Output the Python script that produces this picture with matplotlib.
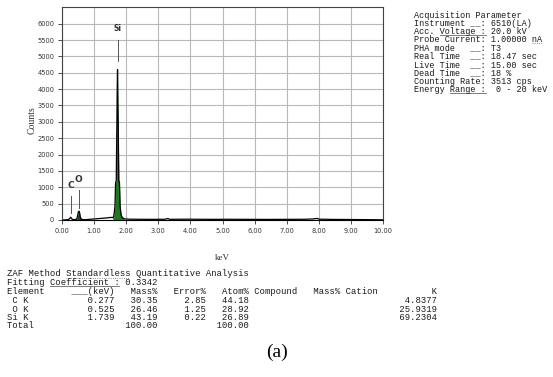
import matplotlib
matplotlib.use("Agg")
import matplotlib.pyplot as plt
from matplotlib.lines import Line2D

W, H = 553, 377

# EDS spectrum (keV, counts)
energy_kev = [0.00, 0.10, 0.18, 0.22, 0.25, 0.27, 0.29, 0.32, 0.38, 0.44, 0.47,
              0.49, 0.51, 0.53, 0.55, 0.57, 0.60, 0.66, 0.75, 0.85, 0.95, 1.05,
              1.15, 1.25, 1.35, 1.45, 1.52, 1.57, 1.60, 1.62, 1.65, 1.67, 1.69,
              1.71, 1.72, 1.73, 1.74, 1.75, 1.77, 1.79, 1.81, 1.84, 1.88, 1.95,
              2.10, 2.40, 2.80, 3.20, 3.30, 3.36, 3.50, 3.90, 4.30, 4.70, 5.20,
              5.80, 6.40, 7.00, 7.50, 7.80, 7.95, 8.02, 8.10, 8.40, 9.00, 9.60,
              10.00]
counts = [0, 5, 10, 25, 60, 85, 55, 20, 12, 20, 60,
          160, 250, 270, 210, 90, 25, 12, 12, 20, 28, 35,
          45, 52, 60, 70, 80, 72, 90, 160, 420, 1150, 1200,
          3000, 4000, 4600, 3600, 3000, 1200, 1150, 420, 160, 70, 35,
          25, 22, 20, 22, 45, 20, 22, 25, 22, 20, 22,
          20, 18, 20, 22, 30, 48, 22, 25, 18, 15, 10,
          5]

si_range = (1.59, 1.88)
o_range = (0.46, 0.59)

peak_names = ["C", "O", "Si"]
peak_kev = [0.277, 0.525, 1.739]
marker_low = [200, 360, 4850]
marker_high = [720, 920, 5500]
label_counts = [1060, 1250, 5850]

x_ticks = [0, 1, 2, 3, 4, 5, 6, 7, 8, 9, 10]
y_ticks = list(range(0, 6001, 500))

acq_lines = [
    "Acquisition Parameter",
    "Instrument __: 6510(LA)",
    "Acc. Voltage : 20.0 kV",
    "Probe Current: 1.00000 nA",
    "PHA mode   __: T3",
    "Real Time  __: 18.47 sec",
    "Live Time  __: 15.00 sec",
    "Dead Time  __: 18 %",
    "Counting Rate: 3513 cps",
    "Energy Range :  0 - 20 keV",
]

elements = [" C K", " O K", "Si K"]
line_kev = [0.277, 0.525, 1.739]
mass_pct = [30.35, 26.46, 43.19]
error_pct = [2.85, 1.25, 0.22]
atom_pct = [44.18, 28.92, 26.89]
k_values = [4.8377, 25.9319, 69.2304]
total_mass = 100.00
total_atom = 100.00
fit_coef = 0.3342

mono = "Liberation Mono"
serif = "Liberation Serif"

fig = plt.figure(figsize=(W / 100, H / 100), dpi=100)
ax = fig.add_axes([62 / W, 1 - 220 / H, (383 - 62) / W, (220 - 7.3) / H])

ax.fill_between(energy_kev, counts, where=[si_range[0] <= e <= si_range[1] for e in energy_kev],
                color="#1f7a1f", lw=0, interpolate=True)
ax.fill_between(energy_kev, counts, where=[o_range[0] <= e <= o_range[1] for e in energy_kev],
                color="#1d4d1d", lw=0, interpolate=True)
ax.plot(energy_kev, counts, color="black", lw=0.9)

for name, e, lo, hi, ly in zip(peak_names, peak_kev, marker_low, marker_high, label_counts):
    ax.plot([e, e], [lo, hi], color="#555555", lw=0.7)
    ax.text(e, ly, name, ha="center", va="center", color="#333333",
            fontsize=5.5 if name == "Si" else 6.5, fontweight="bold")

ax.set_xlim(0, 10)
ax.set_ylim(0, 6500)
ax.set_xticks(x_ticks)
ax.set_xticklabels([f"{v:.2f}" for v in x_ticks])
ax.set_yticks(y_ticks)
ax.grid(True, color="#b8b8b8", lw=0.8)
ax.set_axisbelow(True)
ax.tick_params(labelsize=4.8, length=3, width=0.6, colors="#333333", pad=2.5)
for s in ax.spines.values():
    s.set_color("#444444")
    s.set_linewidth(0.8)
ax.spines["bottom"].set_color("black")

fig.text(32 / W, 1 - 120 / H, "Counts", rotation=90, ha="center", va="center",
         family=serif, fontsize=7, color="#333333")
fig.text(222 / W, 1 - 258 / H, "keV", ha="center", va="center",
         family=serif, fontsize=6.5, color="#333333")


def mtext(x0, y, s, size):
    fig.text(x0 / W, 1 - y / H, s, family=mono, fontsize=size,
             ha="left", va="center", color="#1a1a1a")


def uline(x0, y, i0, i1, cw, dotted=False):
    fig.add_artist(Line2D([(x0 + i0 * cw) / W, (x0 + i1 * cw) / W],
                          [1 - (y + 3.6) / H] * 2, transform=fig.transFigure,
                          color="#666666", lw=0.6, ls=":" if dotted else "-"))


# acquisition parameters block
asize = 6.15
acw = asize / 72 * 100 * 0.6
ax0, ay0, astep = 414, 15, 8.25
for i, s in enumerate(acq_lines):
    mtext(ax0, ay0 + i * astep, s, asize)
uline(ax0, ay0 + 2 * astep, 5, 14, acw)
uline(ax0, ay0 + 3 * astep, 23, 25, acw, dotted=True)
uline(ax0, ay0 + 9 * astep, 7, 14, acw)

# quantitative table
tsize = 6.4
tcw = tsize / 72 * 100 * 0.6
tx0 = 7
rows_y = [274, 282.5, 292, 300.5, 309, 317.5, 326]
mtext(tx0, rows_y[0], "ZAF Method Standardless Quantitative Analysis", tsize)
uline(tx0, rows_y[0], 11, 23, tcw, dotted=True)
mtext(tx0, rows_y[1], f"Fitting Coefficient : {fit_coef:.4f}", tsize)
uline(tx0, rows_y[1], 8, 21, tcw)
header = ("Element" + " " * 5 + "___(keV)" + " " * 3 + "Mass%" + " " * 3 + "Error%"
          + " " * 3 + "Atom%" + " " + "Compound" + " " * 3 + "Mass%" + " "
          + "Cation" + " " * 10 + "K")
mtext(tx0, rows_y[2], header, tsize)
for j, name in enumerate(elements):
    row = (f"{name:<6}{line_kev[j]:>14.3f}{mass_pct[j]:>8.2f}{error_pct[j]:>9.2f}"
           f"{atom_pct[j]:>8.2f}{k_values[j]:>35.4f}")
    mtext(tx0, rows_y[3 + j], row, tsize)
total_row = f"{'Total':<20}{total_mass:>8.2f}{'':>9}{total_atom:>8.2f}"
mtext(tx0, rows_y[6], total_row, tsize)

fig.text(277 / W, 1 - 352 / H, "(a)", ha="center", va="center",
         family=serif, fontsize=14, color="black")

fig.savefig("out.png", dpi=100)
